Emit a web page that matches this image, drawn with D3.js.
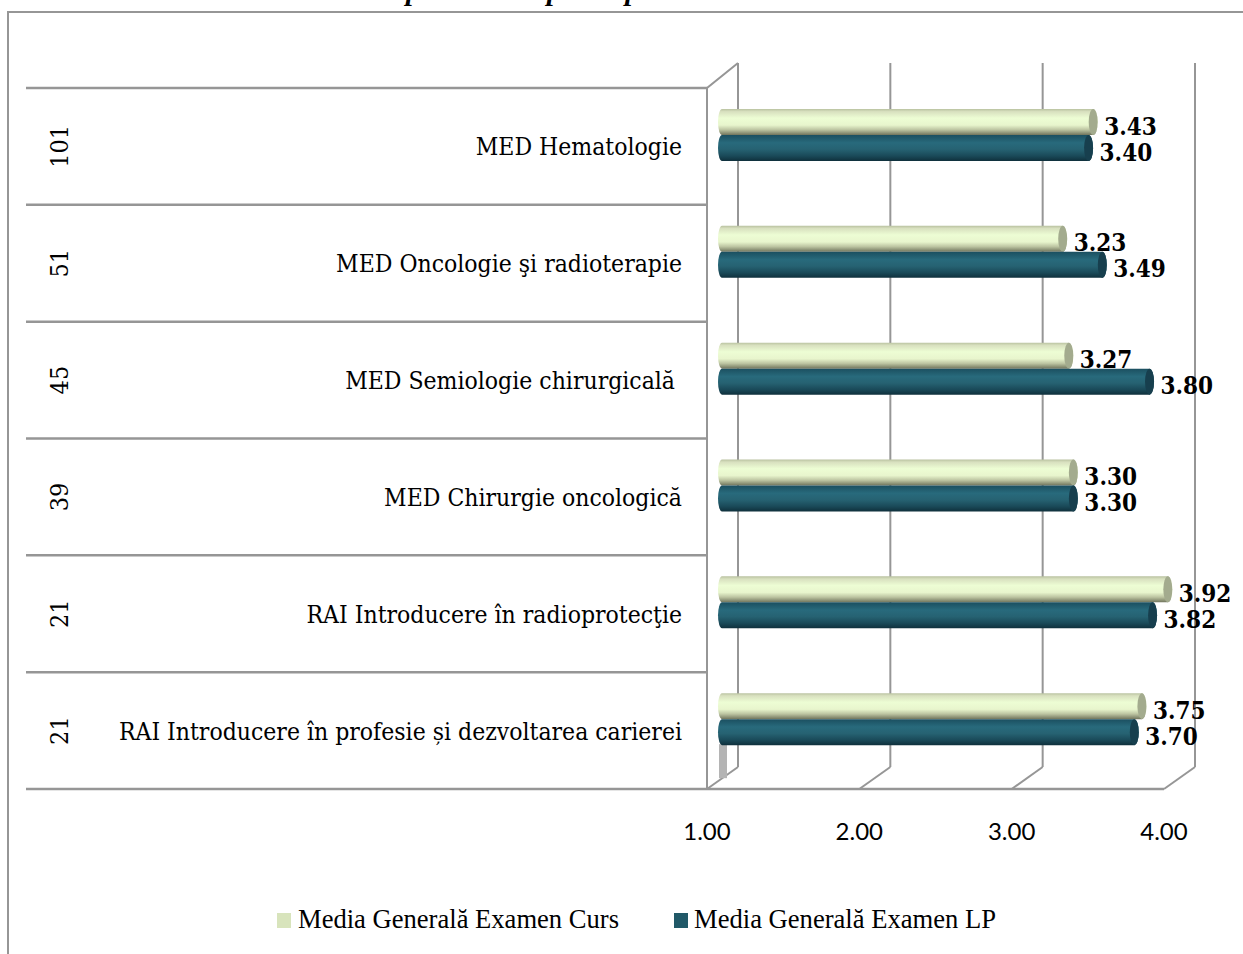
<!DOCTYPE html>
<html>
<head>
<meta charset="utf-8">
<script src="https://cdn.jsdelivr.net/npm/d3@7"></script>
<style>
  html, body { margin: 0; padding: 0; background: #fff; overflow: hidden; }
  svg { display: block; }
  text { fill: #000; }
</style>
</head>
<body>
<div id="chart"></div>
<script>
const categories = [
  "MED Hematologie",
  "MED Oncologie şi radioterapie",
  "MED Semiologie chirurgicală ",
  "MED Chirurgie oncologică",
  "RAI Introducere în radioprotecţie",
  "RAI Introducere în profesie și dezvoltarea carierei"
];
const counts = ["101", "51", "45", "39", "21", "21"];
const curs = [3.43, 3.23, 3.27, 3.30, 3.92, 3.75];
const lp = [3.40, 3.49, 3.80, 3.30, 3.82, 3.70];
const ticks = [1, 2, 3, 4];
const seriesNames = ["Media Generală Examen Curs", "Media Generală Examen LP"];

const width = 1243;
const height = 954;
const gray = "#969696";
const serif = "'Liberation Serif', serif";
const slab = "'DejaVu Serif Condensed', 'DejaVu Serif', serif";

const svg = d3.select("#chart").append("svg")
  .attr("width", width)
  .attr("height", height);

// depth of the fake 3d box
const depth = { x: 31, y: -23 };

const x = d3.scaleLinear().domain([1, 4]).range([707, 1164]);
const y = d3.scaleBand().domain(d3.range(categories.length)).range([88, 789]);

// cylinder shading
const defs = svg.append("defs");
function cylinder(id, stops) {
  const g = defs.append("linearGradient").attr("id", id)
    .attr("x1", 0).attr("y1", 0).attr("x2", 0).attr("y2", 1);
  stops.forEach(s => g.append("stop").attr("offset", s[0]).attr("stop-color", s[1]));
}
cylinder("grad-curs", [[0, "#b9c2a0"], [0.1, "#d8e0bf"], [0.35, "#edfdd4"], [0.62, "#e8f5cd"], [0.8, "#bcc4a1"], [1, "#70745c"]]);
cylinder("grad-lp", [[0, "#1b4f60"], [0.3, "#286a7c"], [0.55, "#266272"], [0.8, "#1a4a59"], [1, "#0f303c"]]);

// outer chart frame, cut off by the page
svg.append("path")
  .attr("d", `M8,${height} V12 H${width}`)
  .attr("fill", "none").attr("stroke", gray).attr("stroke-width", 2);

// title, only its descenders show above the frame
svg.append("text")
  .attr("x", 406).attr("y", -0.5)
  .attr("font-family", serif).attr("font-size", 29)
  .attr("font-weight", "bold").attr("font-style", "italic")
  .text("pentru discipline specializarea");

const grid = svg.append("g").attr("fill", "none").attr("stroke", gray);

// back wall lines and floor
ticks.forEach(t => {
  grid.append("line")
    .attr("x1", x(t) + depth.x).attr("x2", x(t) + depth.x)
    .attr("y1", y.range()[0] + depth.y - 2).attr("y2", y.range()[1] + depth.y + 1)
    .attr("stroke-width", 2);
  grid.append("line")
    .attr("x1", x(t)).attr("x2", x(t) + depth.x)
    .attr("y1", y.range()[1]).attr("y2", y.range()[1] + depth.y + 1)
    .attr("stroke-width", 2);
});
grid.append("path")
  .attr("d", `M${x(1)},${y.range()[1]} V${y.range()[0]} L${x(1) + depth.x},${y.range()[0] + depth.y - 2}`)
  .attr("stroke-width", 2);

// category table lines
d3.range(categories.length + 1).forEach(i => {
  const yy = i === categories.length ? y.range()[1] : y(i);
  grid.append("line")
    .attr("x1", 26).attr("x2", x(1))
    .attr("y1", yy).attr("y2", yy)
    .attr("stroke-width", 2.5);
});
grid.append("line")
  .attr("x1", x(1)).attr("x2", x(4))
  .attr("y1", y.range()[1]).attr("y2", y.range()[1])
  .attr("stroke-width", 2.5);

// small gray stub under the lowest bar
svg.append("rect")
  .attr("x", x(1) + 12).attr("width", 8)
  .attr("y", y(5) + 72).attr("height", 34)
  .attr("fill", "#b4b4b4");

// bars
const barH = 26;
const capR = 4.5;
const barX = x(1) + 11;
function barPath(v, top) {
  const end = x(v) + 16;
  return `M${barX + 4},${top} H${end} A${capR},${barH / 2} 0 0 1 ${end},${top + barH} H${barX + 4} A4,${barH / 2} 0 0 1 ${barX + 4},${top} Z`;
}
function capPath(v, top) {
  const end = x(v) + 16;
  return `M${end},${top} A${capR},${barH / 2} 0 0 1 ${end},${top + barH} A${capR},${barH / 2} 0 0 1 ${end},${top} Z`;
}
const rows = svg.append("g").selectAll("g").data(categories).join("g");

rows.append("path").attr("d", (d, i) => barPath(curs[i], y(i) + 21)).attr("fill", "url(#grad-curs)");
rows.append("path").attr("d", (d, i) => capPath(curs[i], y(i) + 21)).attr("fill", "#a3ab8e");
rows.append("path").attr("d", (d, i) => barPath(lp[i], y(i) + 47)).attr("fill", "url(#grad-lp)");
rows.append("path").attr("d", (d, i) => capPath(lp[i], y(i) + 47)).attr("fill", "#173f4e");

// value labels
rows.append("text")
  .attr("x", (d, i) => x(curs[i]) + 27).attr("y", (d, i) => y(i) + 46.5)
  .attr("font-family", slab).attr("font-size", 24).attr("font-weight", "bold")
  .text((d, i) => curs[i].toFixed(2));
rows.append("text")
  .attr("x", (d, i) => x(lp[i]) + 27).attr("y", (d, i) => y(i) + 72.5)
  .attr("font-family", slab).attr("font-size", 24).attr("font-weight", "bold")
  .text((d, i) => lp[i].toFixed(2));

// category names and counts
rows.append("text")
  .attr("x", 682).attr("y", (d, i) => y(i) + y.bandwidth() / 2 + 9)
  .attr("text-anchor", "end")
  .attr("xml:space", "preserve")
  .attr("font-family", slab).attr("font-size", 24.5)
  .text(d => d);
rows.append("text")
  .attr("transform", (d, i) => `translate(68,${y(i) + y.bandwidth() / 2}) rotate(-90)`)
  .attr("text-anchor", "middle")
  .attr("font-family", slab).attr("font-size", 25)
  .text((d, i) => counts[i]);

// x tick labels
svg.append("g").selectAll("text").data(ticks).join("text")
  .attr("x", d => x(d)).attr("y", 840)
  .attr("text-anchor", "middle")
  .attr("font-family", "Lato, sans-serif").attr("font-size", 24)
  .text(d => d.toFixed(2));

// legend
const legendX = [277, 674];
const legendTextX = [298, 694];
const legendLen = [321, 302];
const legendFill = ["#d8e4bc", "#215968"];
const legend = svg.append("g").selectAll("g").data(seriesNames).join("g");
legend.append("rect")
  .attr("x", (d, i) => legendX[i]).attr("y", 913)
  .attr("width", 14).attr("height", 15)
  .attr("fill", (d, i) => legendFill[i]);
legend.append("text")
  .attr("x", (d, i) => legendTextX[i]).attr("y", 928)
  .attr("font-family", serif).attr("font-size", 28)
  .attr("textLength", (d, i) => legendLen[i])
  .attr("lengthAdjust", "spacingAndGlyphs")
  .text(d => d);
</script>
</body>
</html>
